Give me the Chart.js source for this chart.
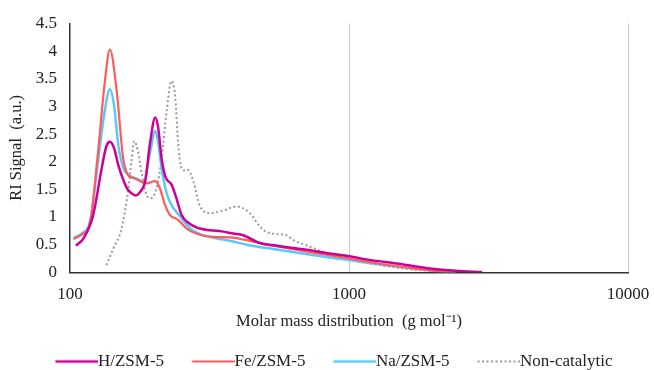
<!DOCTYPE html>
<html>
<head>
<meta charset="utf-8">
<script src="https://cdn.jsdelivr.net/npm/chart.js@4.4.1/dist/chart.umd.min.js"></script>
<style>
	html, body { margin: 0; padding: 0; background: #fff; }
	#wrap { width: 654px; height: 370px; }
</style>
</head>
<body>
<div id="wrap"><canvas id="gpcChart" width="654" height="370"></canvas></div>
<script>
// molar mass (g/mol) and RI signal (a.u.)
var massH   = [105, 112, 121, 130, 135, 139, 144, 149, 155, 160, 166, 172, 178, 186, 194, 202, 207, 213, 220, 231, 240, 251, 265, 284, 318, 350, 385, 417, 479, 535, 630, 704, 850, 1000, 1200, 1479, 1945, 2400, 3000];
var signalH = [0.48, 0.62, 1.03, 1.89, 2.28, 2.36, 2.24, 1.94, 1.68, 1.52, 1.43, 1.39, 1.45, 1.65, 2.37, 2.80, 2.62, 2.05, 1.72, 1.59, 1.36, 1.04, 0.90, 0.81, 0.76, 0.74, 0.70, 0.67, 0.53, 0.49, 0.44, 0.41, 0.34, 0.29, 0.22, 0.16, 0.07, 0.03, 0.00];

var massFe   = [103, 110, 118, 126, 133, 139, 147, 155, 162, 170, 188, 202, 210, 219, 228, 244, 262, 292, 330, 374, 420, 535, 700, 1000, 1300, 1700, 2000, 2400];
var signalFe = [0.60, 0.68, 0.90, 2.17, 3.40, 4.03, 3.28, 2.07, 1.75, 1.70, 1.61, 1.65, 1.52, 1.22, 1.04, 0.95, 0.79, 0.68, 0.64, 0.63, 0.59, 0.48, 0.38, 0.25, 0.15, 0.07, 0.03, 0.00];

var massNa   = [103, 110, 118, 126, 133, 139, 144, 149, 155, 162, 172, 184, 194, 202, 207, 213, 222, 231, 248, 269, 290, 330, 374, 430, 535, 700, 1000, 1300, 1700, 2000, 2420];
var signalNa = [0.62, 0.70, 0.92, 2.00, 2.90, 3.31, 3.00, 2.30, 1.90, 1.76, 1.70, 1.64, 2.19, 2.56, 2.35, 1.88, 1.43, 1.22, 1.01, 0.80, 0.70, 0.62, 0.57, 0.50, 0.42, 0.33, 0.22, 0.14, 0.07, 0.03, 0.00];

var massNC   = [135, 143, 153, 162, 166, 170, 175, 181, 188, 195, 205, 213, 222, 231, 238, 244, 251, 258, 265, 277, 292, 318, 355, 395, 441, 479, 506, 551, 597, 632, 704, 853, 1000, 1288, 1695, 2350];
var signalNC = [0.13, 0.43, 0.79, 1.52, 2.00, 2.37, 2.20, 1.77, 1.40, 1.34, 1.55, 2.06, 2.91, 3.46, 3.20, 2.37, 1.88, 1.84, 1.85, 1.64, 1.20, 1.07, 1.12, 1.19, 1.07, 0.83, 0.73, 0.69, 0.67, 0.58, 0.49, 0.32, 0.23, 0.13, 0.05, 0.00];

var xTicks = [100, 1000, 10000];

function pts( xs, ys ) {
	return xs.map( function ( x, i ) { return { x: x, y: ys[i] }; } );
}

var serif = '"Liberation Serif", "Times New Roman", serif';
var legendFont = 17;
var swatchW = 41;     // box width Chart.js reserves (includes some blank lead-in)
var swatchLine = 42.5; // visible line length, touching the label

// legend marker: a line that runs right up to the label text
function swatch( ds ) {
	var c = document.createElement( 'canvas' );
	c.width = Math.round( swatchW + legendFont );
	c.height = 6;
	var g = c.getContext( '2d' );
	g.strokeStyle = ds.borderColor;
	g.lineWidth = ds.borderWidth;
	g.setLineDash( ds.borderDash || [] );
	g.beginPath();
	g.moveTo( c.width - swatchLine, 3 );
	g.lineTo( c.width, 3 );
	g.stroke();
	return c;
}

var ctx = document.getElementById( 'gpcChart' ).getContext( '2d' );
var gpcChart = new Chart( ctx, {
	type: 'line',
	data: {
		datasets: [
			{ label: 'H/ZSM-5', data: pts( massH, signalH ), borderColor: '#cc0099', borderWidth: 2.5 },
			{ label: 'Fe/ZSM-5', data: pts( massFe, signalFe ), borderColor: '#ff5b5b', borderWidth: 2.2 },
			{ label: 'Na/ZSM-5', data: pts( massNa, signalNa ), borderColor: '#5cc8f7', borderWidth: 2.5 },
			{ label: 'Non-catalytic', data: pts( massNC, signalNC ), borderColor: '#9a9a9a', borderWidth: 2, borderDash: [2, 2.5] }
		]
	},
	options: {
		responsive: false,
		animation: false,
		elements: {
			point: { radius: 0 },
			line: { cubicInterpolationMode: 'monotone', fill: false }
		},
		layout: { padding: { left: 7, right: 0, top: 23.5, bottom: -10 } },
		scales: {
			x: {
				type: 'logarithmic',
				min: 100,
				max: 10000,
				afterBuildTicks: function ( scale ) {
					scale.ticks = xTicks.map( function ( v ) { return { value: v }; } );
				},
				afterFit: function ( scale ) {
					scale.paddingLeft = 0;
					scale.paddingRight = 26;
				},
				ticks: {
					color: '#222',
					font: { family: serif, size: 17 },
					padding: 12,
					maxRotation: 0,
					callback: function ( v ) { return String( v ); }
				},
				grid: {
					color: function ( c ) { return c.tick && c.tick.value === 100 ? 'rgba(0,0,0,0)' : '#c8c8c8'; },
					drawTicks: false
				},
				border: { display: true, color: '#333', width: 1.5 },
				title: {
					display: true,
					text: 'Molar mass distribution  (g mol\u207B\u00B9)',
					color: '#222',
					font: { family: serif, size: 16.5 },
					padding: { top: -4.5, bottom: 0 }
				}
			},
			y: {
				min: 0,
				max: 4.5,
				afterFit: function ( scale ) {
					scale.width = 63;
				},
				ticks: {
					stepSize: 0.5,
					color: '#222',
					font: { family: serif, size: 17 },
					padding: 13,
					callback: function ( v ) { return String( v ); }
				},
				grid: { display: false, drawTicks: false },
				border: { display: true, color: '#333', width: 1.5 },
				title: {
					display: true,
					text: 'RI Signal  (a.u.)',
					color: '#222',
					font: { family: serif, size: 16.5 },
					padding: { top: 0, bottom: 1 }
				}
			}
		},
		plugins: {
			legend: {
				position: 'bottom',
				labels: {
					usePointStyle: true,
					pointStyleWidth: swatchW,
					padding: 21,
					color: '#222',
					font: { family: serif, size: legendFont },
					generateLabels: function ( chart ) {
						var items = Chart.defaults.plugins.legend.labels.generateLabels( chart );
						items.forEach( function ( it ) {
							it.pointStyle = swatch( chart.data.datasets[it.datasetIndex] );
						} );
						return items;
					}
				}
			},
			tooltip: { enabled: false }
		}
	}
} );
</script>
</body>
</html>
